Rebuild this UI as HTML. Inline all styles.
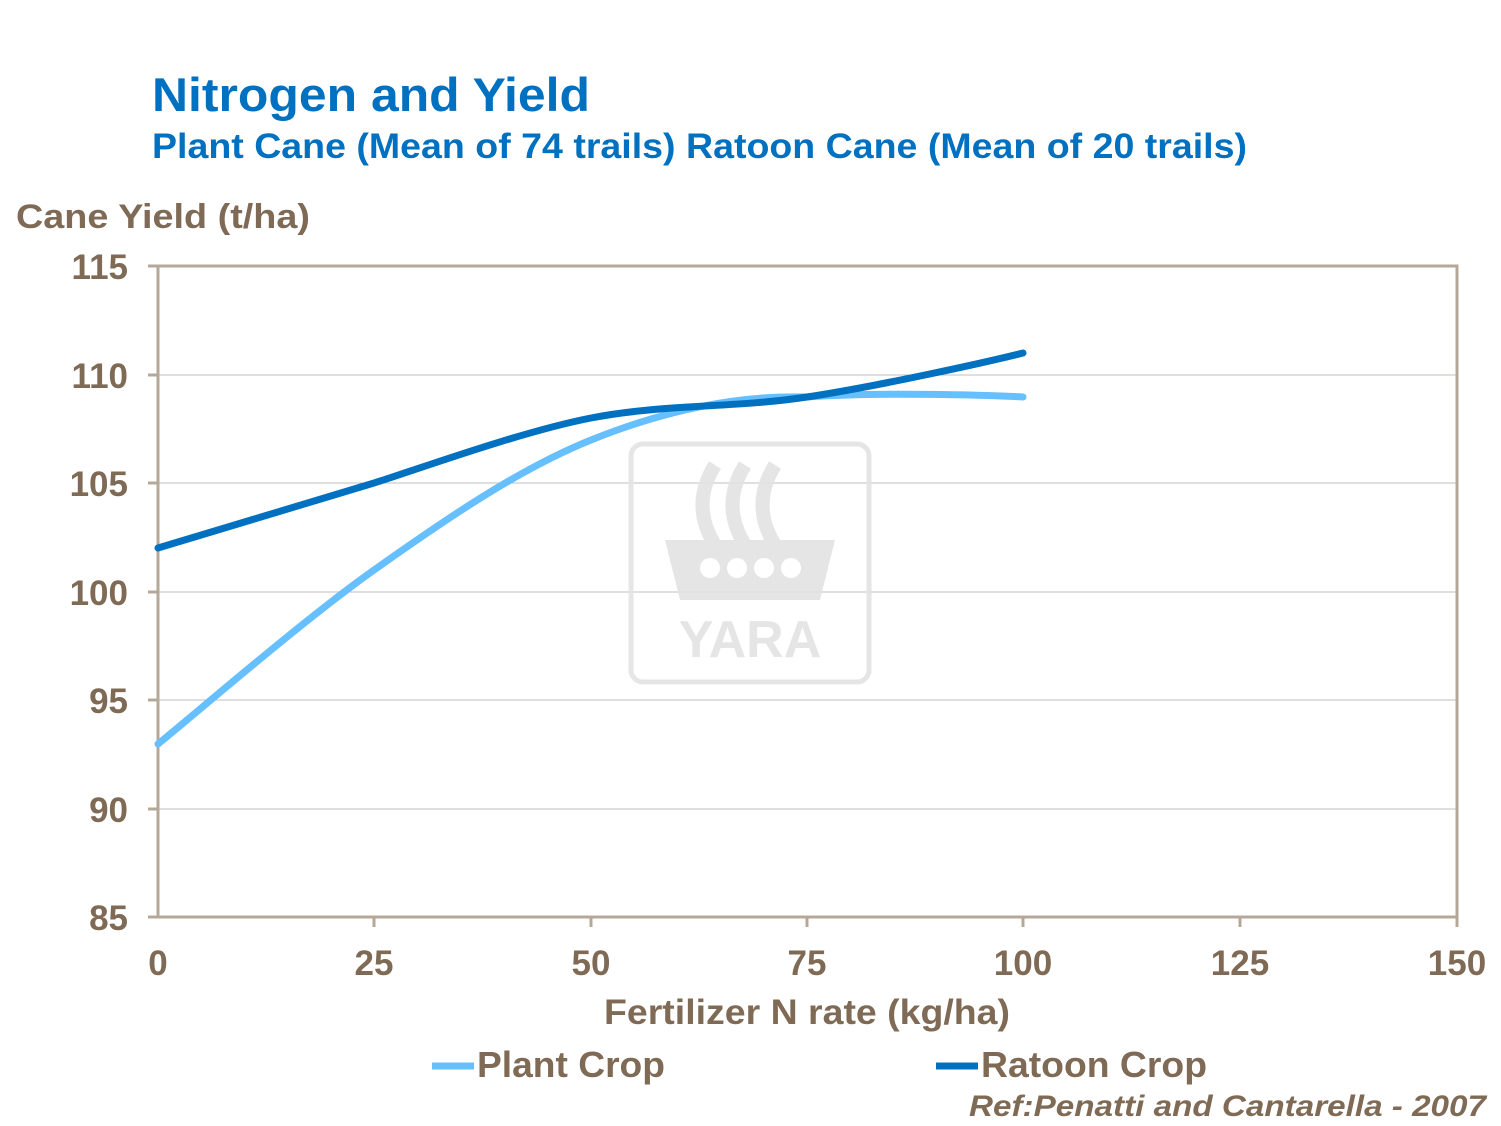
<!DOCTYPE html>
<html><head><style>
html,body{margin:0;padding:0;background:#fff;}
svg{display:block;}
text{font-family:"Liberation Sans",Arial,sans-serif;font-weight:bold;}
</style></head><body>
<svg width="1501" height="1126" viewBox="0 0 1501 1126" xmlns="http://www.w3.org/2000/svg">
<text x="152" y="111" font-size="47" fill="#0070C0" textLength="438" lengthAdjust="spacingAndGlyphs">Nitrogen and Yield</text>
<text x="152" y="158" font-size="35" fill="#0070C0" textLength="1095" lengthAdjust="spacingAndGlyphs">Plant Cane (Mean of 74 trails) Ratoon Cane (Mean of 20 trails)</text>
<text x="16" y="228" font-size="34" fill="#7F6A55" textLength="294" lengthAdjust="spacingAndGlyphs">Cane Yield (t/ha)</text>
<g stroke="#BFBFBF" stroke-width="1">
<line x1="158" y1="375" x2="1457" y2="375"/>
<line x1="158" y1="483" x2="1457" y2="483"/>
<line x1="158" y1="592" x2="1457" y2="592"/>
<line x1="158" y1="700" x2="1457" y2="700"/>
<line x1="158" y1="809" x2="1457" y2="809"/>
</g>
<g opacity="0.9">
<rect x="631" y="444" width="238" height="238" rx="12" fill="none" stroke="#E3E3E3" stroke-width="5"/>
<path d="M665 540 L835 540 L820 600 L680 600 Z" fill="#E3E3E3"/>
<g fill="#fff"><circle cx="710" cy="568" r="10"/><circle cx="737" cy="568" r="10"/><circle cx="764" cy="568" r="10"/><circle cx="791" cy="568" r="10"/></g>
<path d="M715 465 q-25 40 0 80" stroke="#E3E3E3" stroke-width="14" fill="none"/>
<path d="M745 465 q-25 40 0 80" stroke="#E3E3E3" stroke-width="14" fill="none"/>
<path d="M775 465 q-25 40 0 80" stroke="#E3E3E3" stroke-width="14" fill="none"/>
<text x="750" y="657" font-size="52" fill="#E3E3E3" text-anchor="middle">YARA</text>
</g>
<rect x="158" y="266" width="1299" height="651" fill="none" stroke="#B5A898" stroke-width="3"/>
<g stroke="#B5A898" stroke-width="3">
<line x1="148" y1="266" x2="158" y2="266"/><line x1="148" y1="375" x2="158" y2="375"/>
<line x1="148" y1="483" x2="158" y2="483"/><line x1="148" y1="592" x2="158" y2="592"/>
<line x1="148" y1="700" x2="158" y2="700"/><line x1="148" y1="809" x2="158" y2="809"/>
<line x1="148" y1="917" x2="158" y2="917"/>
<line x1="374" y1="917" x2="374" y2="927"/><line x1="591" y1="917" x2="591" y2="927"/>
<line x1="807" y1="917" x2="807" y2="927"/><line x1="1023" y1="917" x2="1023" y2="927"/>
<line x1="1240" y1="917" x2="1240" y2="927"/><line x1="1457" y1="917" x2="1457" y2="927"/>
</g>
<g font-size="35" fill="#7F6A55" text-anchor="end">
<text x="128" y="279">115</text><text x="128" y="388">110</text><text x="128" y="496">105</text>
<text x="128" y="605">100</text><text x="128" y="713">95</text><text x="128" y="822">90</text>
<text x="128" y="930">85</text>
</g>
<g font-size="35" fill="#7F6A55" text-anchor="middle">
<text x="158" y="975">0</text><text x="374" y="975">25</text><text x="591" y="975">50</text>
<text x="807" y="975">75</text><text x="1023" y="975">100</text><text x="1240" y="975">125</text>
<text x="1457" y="975">150</text>
</g>
<text x="604" y="1024" font-size="35" fill="#7F6A55" textLength="406" lengthAdjust="spacingAndGlyphs">Fertilizer N rate (kg/ha)</text>
<path d="M158 744 C194 715 302 621 374 570 C446 519 519 469 591 440 C663 411 735 395 807 397 C879 392 987 395 1023 397" fill="none" stroke="#66BFFF" stroke-width="7" stroke-linecap="round"/>
<path d="M158 548 C194 537 338 494 374 483 C410 472 519 432 591 418 C663 404 735 408 807 397 C879 386 987 362 1023 353" fill="none" stroke="#0070C0" stroke-width="7" stroke-linecap="round"/>
<line x1="432" y1="1066" x2="474" y2="1066" stroke="#66BFFF" stroke-width="7"/>
<text x="477" y="1077" font-size="36" fill="#7F6A55" textLength="188" lengthAdjust="spacingAndGlyphs">Plant Crop</text>
<line x1="936" y1="1066" x2="978" y2="1066" stroke="#0070C0" stroke-width="7"/>
<text x="981" y="1077" font-size="36" fill="#7F6A55" textLength="226" lengthAdjust="spacingAndGlyphs">Ratoon Crop</text>
<text x="969" y="1116" font-size="30" fill="#7F6A55" font-style="italic" textLength="517" lengthAdjust="spacingAndGlyphs">Ref:Penatti and Cantarella - 2007</text>
</svg>
</body></html>
